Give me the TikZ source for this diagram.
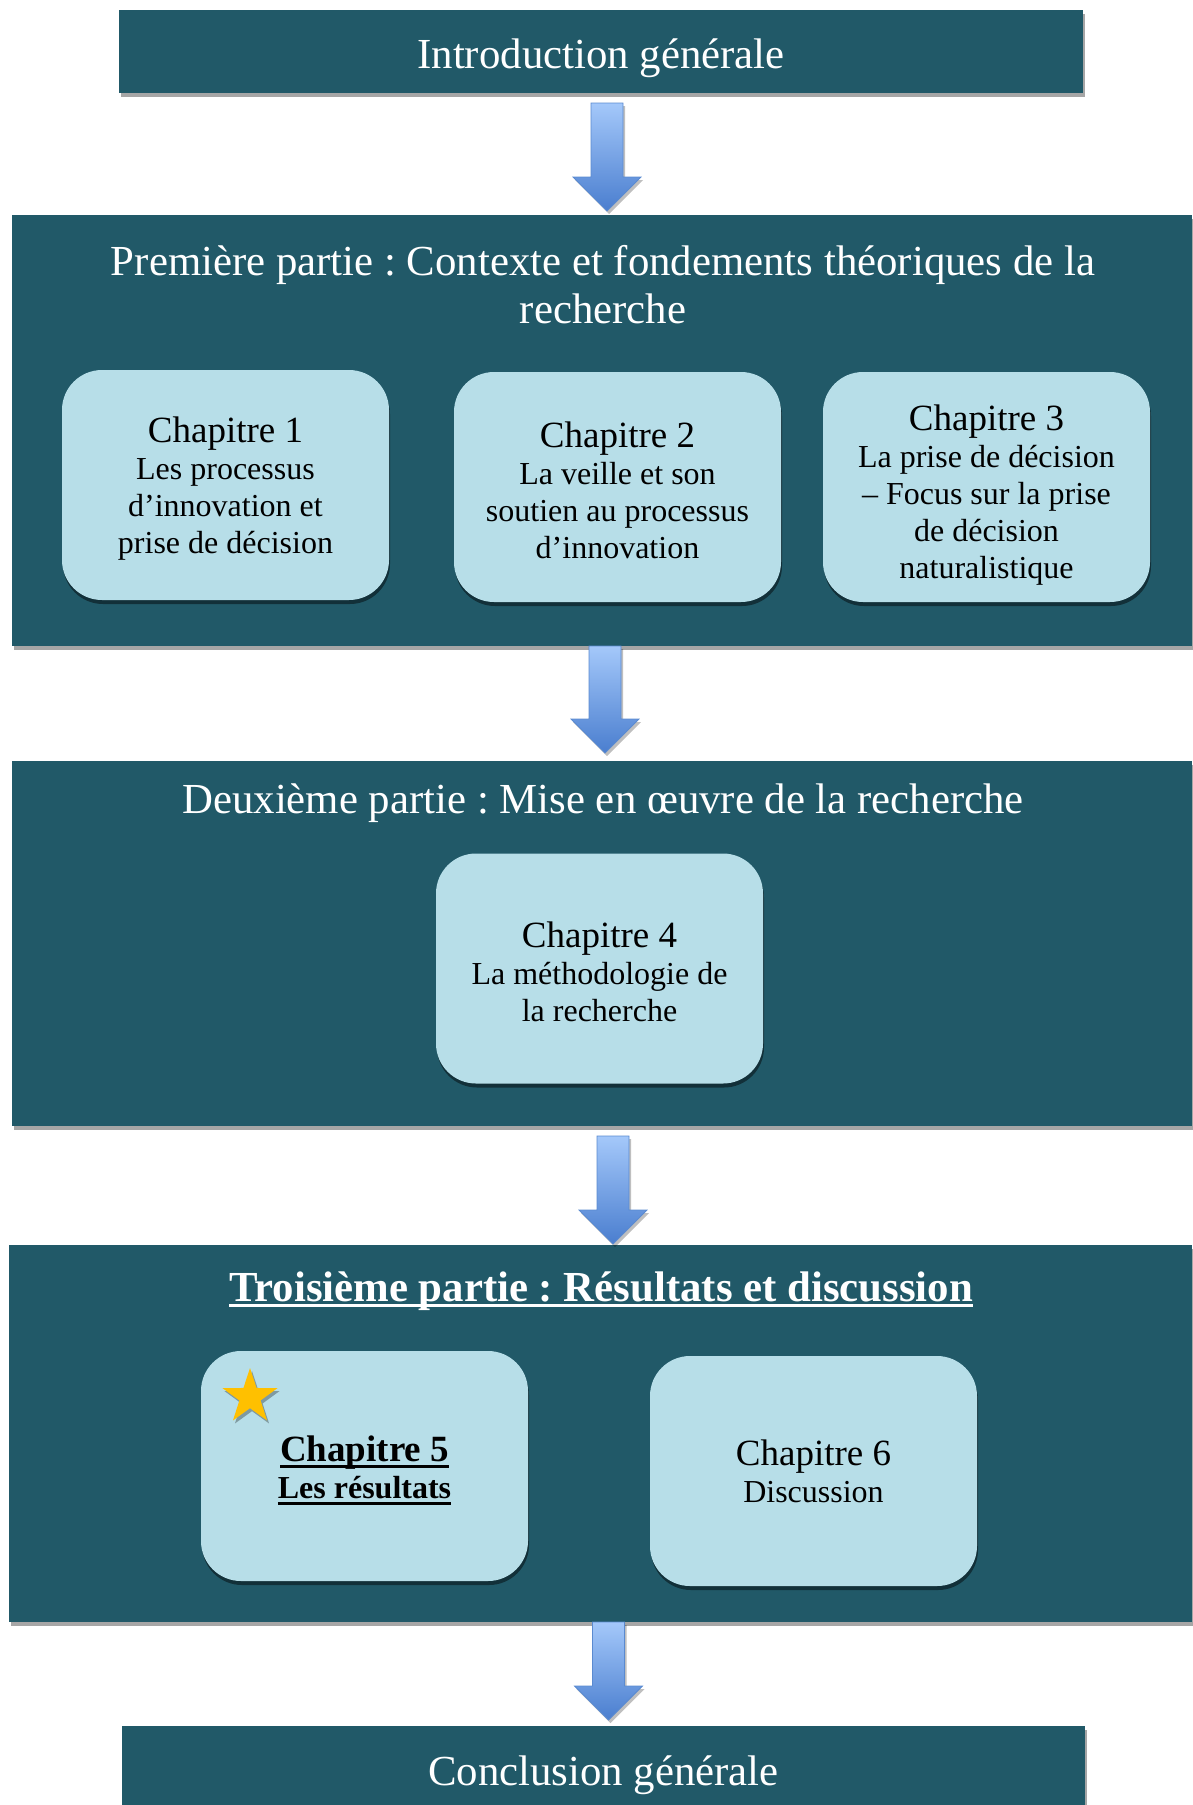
\documentclass[tikz,border=0pt]{standalone}
\usepackage{fontspec}
\setmainfont{Liberation Serif}
\frenchspacing
\usetikzlibrary{shadows,calc,shapes.geometric}
\definecolor{darkteal}{HTML}{215968}
\definecolor{chapfill}{HTML}{B7DEE8}
\definecolor{arrtop}{HTML}{A4C8FA}
\definecolor{arrbot}{HTML}{4A7ECF}
\definecolor{arredge}{HTML}{5A8AD0}
\definecolor{starcol}{HTML}{FFC000}
\newcommand\thickul[1]{\setbox0\hbox{#1}\leavevmode\rlap{\vrule width\wd0 height -3pt depth 6pt}\box0}
\newcommand\flowarrow[5]{%
  \shade[blockarrow] let \p1=(#1), \p2=(#2) in
   (\x1+#3-16pt,\y1-#4) -- (\x1+#3+16pt,\y1-#4) -- (\x1+#3+16pt,\y2+#5+34pt)
   -- (\x1+#3+34pt,\y2+#5+34pt) -- (\x1+#3,\y2+#5) -- (\x1+#3-34pt,\y2+#5+34pt)
   -- (\x1+#3-16pt,\y2+#5+34pt) -- cycle;}
\tikzset{
  band/.style={fill=darkteal, draw=none, inner sep=0pt, outer sep=0pt,
    drop shadow={shadow xshift=2pt, shadow yshift=-4pt, opacity=0.35, fill=black}},
  bigtext/.style={text=white, font=\fontsize{42.8}{48}\selectfont, align=center},
  chap/.style={fill=chapfill, draw=none, rounded corners=40pt, minimum width=327pt,
    minimum height=230pt, align=center, text=black, inner sep=0pt,
    font=\fontsize{32}{37}\selectfont,
    drop shadow={shadow xshift=1pt, shadow yshift=-4pt, opacity=0.45, fill=black}},
  blockarrow/.style={top color=arrtop, bottom color=arrbot, draw=arredge, line width=0.8pt,
    drop shadow={shadow xshift=2pt, shadow yshift=-3pt, opacity=0.25, fill=black}},
}
\newcommand\chead[2]{{\fontsize{37}{40}\selectfont\rule{0pt}{#1pt}#2}}
\begin{document}
\begin{tikzpicture}[x=1pt,y=-1pt]
\useasboundingbox (0,0) rectangle (1192,1805);
% bands
\node[band, bigtext, text height=35pt, text depth=2pt, minimum width=964pt, minimum height=83pt] (intro) at (601,51.5) {Introduction générale};
\node[band, minimum width=1180pt, minimum height=431pt] (p1) at (602,430.5) {};
\node[band, minimum width=1180pt, minimum height=365pt] (p2) at (602,943.5) {};
\node[band, minimum width=1183pt, minimum height=377pt] (p3) at (600.5,1433.5) {};
\node[band, bigtext, text height=35pt, text depth=2pt, minimum width=963pt, minimum height=86pt] (concl) at (603.5,1769) {Conclusion générale};
% titles
\node[bigtext] (t1) at (603,285) {Première partie : Contexte et fondements théoriques de la\\recherche};
\node[bigtext] (t2) at (603,803) {Deuxième partie : Mise en œuvre de la recherche};
\node[bigtext, font=\fontsize{42.8}{48}\selectfont\bfseries] (t3) at (601,1291) {\thickul{Troisième partie : Résultats et discussion}};
% chapters
\node[chap] (c1) at (225.5,485) {\chead{33}{Chapitre 1}\\Les processus\\d’innovation et\\prise de décision};
\node[chap] (c2) at (617.5,487) {\chead{31.5}{Chapitre 2}\\La veille et son\\soutien au processus\\d’innovation};
\node[chap] (c3) at (986.5,487) {\chead{41}{Chapitre 3}\\La prise de décision\\– Focus sur la prise\\de décision\\naturalistique};
\node[chap] (c4) at (599.5,968.5) {\chead{32.5}{Chapitre 4}\\La méthodologie de\\la recherche};
\node[chap, font=\fontsize{32}{37}\selectfont\bfseries] (c5) at (364.5,1466) {\chead{34}{\thickul{Chapitre 5}}\\\thickul{Les résultats}};
\node[chap] (c6) at (813.5,1471) {\chead{27}{Chapitre 6}\\Discussion};
\node[star, star points=5, star point ratio=2.6, fill=starcol, minimum size=58pt, inner sep=0pt,
  drop shadow={shadow xshift=2pt, shadow yshift=-3pt, opacity=0.3, fill=black}] (star) at (250,1397) {};
% arrows
\flowarrow{intro.south}{p1.north}{6pt}{10pt}{4pt}
\flowarrow{p1.south}{p2.north}{3pt}{0pt}{8pt}
\flowarrow{p2.south}{p3.north}{11pt}{10pt}{1pt}
\flowarrow{p3.south}{concl.north}{8pt}{0pt}{6pt}
\end{tikzpicture}
\end{document}
